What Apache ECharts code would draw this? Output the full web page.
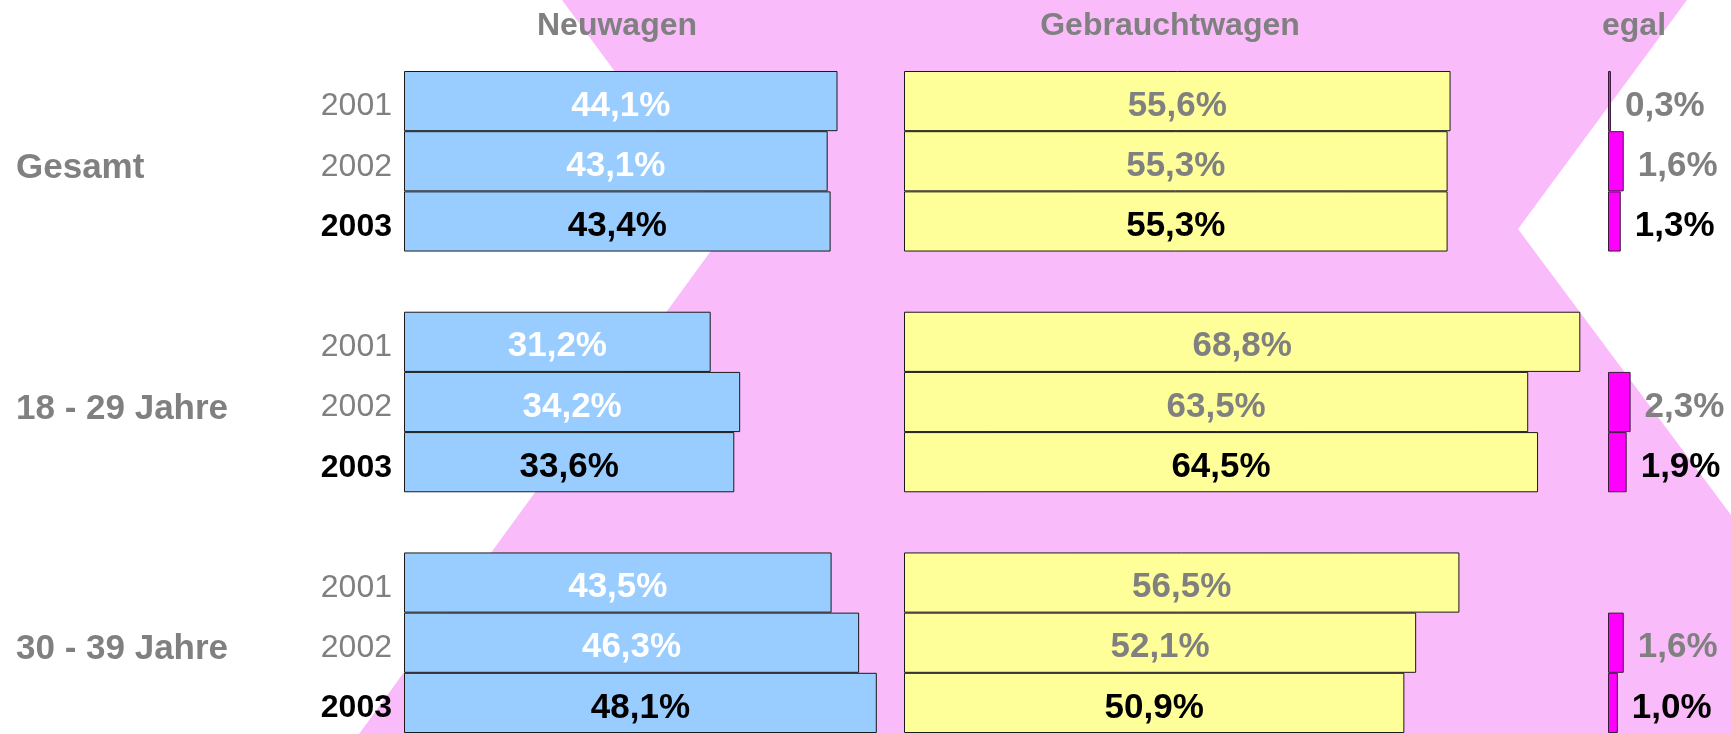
<!DOCTYPE html>
<html>
<head>
<meta charset="utf-8">
<script src="https://cdn.jsdelivr.net/npm/echarts@6/dist/echarts.min.js"></script>
<style>
  html, body { margin: 0; padding: 0; background: #fff; }
  #chart { width: 1731px; height: 734px; }
</style>
</head>
<body>
<div id="chart"></div>
<script>
// data (percent)
const groups = ['Gesamt', '18 - 29 Jahre', '30 - 39 Jahre']
const years = ['2001', '2002', '2003']
const columnTitles = ['Neuwagen', 'Gebrauchtwagen', 'egal']
const neuwagen = [
  [44.1, 43.1, 43.4],
  [31.2, 34.2, 33.6],
  [43.5, 46.3, 48.1]
]
const gebrauchtwagen = [
  [55.6, 55.3, 55.3],
  [68.8, 63.5, 64.5],
  [56.5, 52.1, 50.9]
]
const egal = [
  [0.3, 1.6, 1.3],
  [null, 2.3, 1.9],
  [null, 1.6, 1.0]
]

const FONT = '"Liberation Sans", Arial, sans-serif'
const GREY = '#808080'
const PX_PER_PCT = 9.83

// rows: 3 years per group, one empty row between groups
const rows = []
groups.forEach(function (g, gi) {
  years.forEach(function (y, yi) {
    rows.push({ id: g + '|' + y, group: g, year: y, gi: gi, yi: yi })
  })
  if (gi < groups.length - 1) rows.push({ id: 'gap' + gi, group: '', year: '', gi: gi, yi: -1 })
})
const categories = rows.map(function (r) { return r.id })

function fmt(v) {
  return v.toFixed(1).replace('.', ',') + '%'
}

function buildData(table, lightColor) {
  return rows.map(function (r) {
    if (r.yi < 0) return null
    const v = table[r.gi][r.yi]
    if (v == null) return null
    const last = r.yi === years.length - 1
    return { value: v, label: { color: last ? '#000' : lightColor } }
  })
}

const gridDefs = [
  { left: 404, max: 50 },
  { left: 904, max: 70 },
  { left: 1608, max: 10 }
]

const chart = echarts.init(document.getElementById('chart'))

const labelBase = {
  show: true,
  fontFamily: FONT,
  fontWeight: 'bold',
  fontSize: 35,
  offset: [0, 5],
  formatter: function (p) { return fmt(p.value) }
}

function titleText(x, text) {
  return {
    type: 'text', z: 1, x: x, y: 26,
    style: { text: text, fill: GREY, font: 'bold 32px ' + FONT, textAlign: 'center', textVerticalAlign: 'middle' }
  }
}

chart.setOption({
  backgroundColor: '#fff',
  animation: false,
  graphic: [
    {
      type: 'polygon',
      z: 0,
      silent: true,
      shape: { points: [[562, 0], [1687, 0], [1518, 229], [1894, 734], [359, 734], [729, 226]] },
      style: { fill: '#fabbfa' }
    },
    titleText(617, columnTitles[0]),
    titleText(1170, columnTitles[1]),
    titleText(1634, columnTitles[2])
  ],
  grid: gridDefs.map(function (g) {
    return { left: g.left, width: g.max * PX_PER_PCT, top: 71, height: 662, containLabel: false }
  }),
  xAxis: gridDefs.map(function (g, i) {
    return { type: 'value', gridIndex: i, min: 0, max: g.max, show: false }
  }),
  yAxis: [
    {
      type: 'category', gridIndex: 0, data: categories, inverse: true,
      axisLine: { show: false }, axisTick: { show: false },
      axisLabel: {
        interval: 0, margin: 12, padding: [11, 0, 0, 0],
        formatter: function (v) {
          const y = v.split('|')[1]
          if (!y) return ''
          return y === years[years.length - 1] ? '{b|' + y + '}' : '{n|' + y + '}'
        },
        rich: {
          n: { fontFamily: FONT, fontSize: 32, color: GREY },
          b: { fontFamily: FONT, fontSize: 32, fontWeight: 'bold', color: '#000' }
        }
      }
    },
    {
      type: 'category', gridIndex: 0, data: categories, inverse: true, position: 'left',
      axisLine: { show: false }, axisTick: { show: false },
      axisLabel: {
        interval: 0, margin: 388, align: 'left', padding: [14, 0, 0, 0],
        formatter: function (v) {
          const parts = v.split('|')
          return parts[1] === years[1] ? '{g|' + parts[0] + '}' : ''
        },
        rich: {
          g: { fontFamily: FONT, fontSize: 35, fontWeight: 'bold', color: GREY }
        }
      }
    },
    { type: 'category', gridIndex: 1, data: categories, inverse: true, show: false },
    { type: 'category', gridIndex: 2, data: categories, inverse: true, show: false }
  ],
  series: [
    {
      name: columnTitles[0], type: 'bar', xAxisIndex: 0, yAxisIndex: 0,
      barCategoryGap: '0%', z: 3,
      itemStyle: { color: '#99ccff', borderColor: '#1a1a1a', borderWidth: 1 },
      label: Object.assign({ position: 'inside' }, labelBase),
      data: buildData(neuwagen, '#ffffff')
    },
    {
      name: columnTitles[1], type: 'bar', xAxisIndex: 1, yAxisIndex: 2,
      barCategoryGap: '0%', z: 3,
      itemStyle: { color: '#ffff99', borderColor: '#1a1a1a', borderWidth: 1 },
      label: Object.assign({ position: 'inside' }, labelBase),
      data: buildData(gebrauchtwagen, GREY)
    },
    {
      name: columnTitles[2], type: 'bar', xAxisIndex: 2, yAxisIndex: 3,
      barCategoryGap: '0%', z: 3,
      itemStyle: { color: '#ff00ff', borderColor: '#3a1a3a', borderWidth: 1 },
      label: Object.assign({ position: 'right', distance: 14 }, labelBase),
      data: buildData(egal, GREY)
    }
  ]
})
</script>
</body>
</html>
